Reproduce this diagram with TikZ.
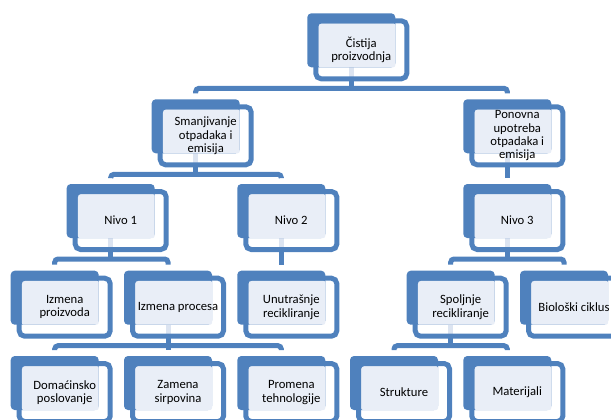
\documentclass[tikz,border=0pt]{standalone}
\usepackage{fontspec}
\setmainfont{Carlito}
\usetikzlibrary{calc}
\pgfdeclarelayer{bg}
\pgfsetlayers{bg,main}
\definecolor{ob}{HTML}{4F81BD}
\definecolor{ol}{HTML}{E9EEF7}
\definecolor{ostub}{HTML}{DCE4F1}
\tikzset{
  backbox/.style={fill=ob, draw=none, rounded corners=3pt, minimum width=66pt, minimum height=40.5pt, inner sep=0pt, outer sep=0pt, anchor=north west},
  textbox/.style={fill=ol, draw=none, rounded corners=1.5pt, minimum width=57.75pt, minimum height=33pt, inner sep=0pt, outer sep=0pt, anchor=north west},
  framebox/.style={draw=ob, line width=3.75pt, rounded corners=4pt, minimum width=68.25pt, minimum height=43.5pt, inner sep=0pt, outer sep=0pt},
  lbl/.style={font=\fontsize{9.5pt}{10pt}\selectfont, align=center, text=black, inner sep=0pt},
  conn/.style={draw=ob, line width=3.75pt, rounded corners=2.5pt},
  stub/.style={draw=ostub, line width=3.75pt},
}
\newcommand\obox[4]{%
  \node[backbox] (#1b) at (#2,#3) {};
  \node[textbox] (#1t) at (#2+11,#3+10) {};
  \node[framebox] (#1f) at (#2+54,#3+36.5) {};
  \node[lbl] (#1) at (#2+54,#3+36.5) {#4};
}
\newcommand\parentline[1]{%
  \draw[stub] (#1b.south) -- (#1b.south |- #1f.south);
  \draw[conn] (#1b.south |- #1f.south) -- ($(#1b.south)+(0,21)$);
}
\newcommand\twokids[3]{%
  \parentline{#1}
  \draw[conn] ($(#2b.north)+(0,-6)$) |- ($(#1b.south)+(0,21)$) -| ($(#3b.north)+(0,-6)$);
}
\newcommand\onekid[2]{%
  \draw[stub] (#1b.south) -- (#1b.south |- #1f.south);
  \draw[conn] (#1b.south |- #1f.south) -- ($(#2b.north)+(0,-6)$);
}
\begin{document}
\begin{tikzpicture}[x=0.75pt,y=-0.75pt]
  \useasboundingbox (0,0) rectangle (611,419);
  \clip (0,0) rectangle (611,419);
  \obox{top}{307.3}{13.3}{Čistija\\proizvodnja}
  \obox{sma}{151.7}{99.3}{Smanjivanje\\otpadaka i\\emisija}
  \obox{pon}{463.3}{99.3}{Ponovna\\upotreba\\otpadaka i\\emisija}
  \obox{nA}{66.7}{184}{Nivo 1}
  \obox{nB}{237.3}{184}{Nivo 2}
  \obox{nC}{463.3}{184}{Nivo 3}
  \obox{izp}{10.7}{270.7}{Izmena\\proizvoda}
  \obox{izr}{124}{270.7}{Izmena procesa}
  \obox{unu}{237.3}{270.7}{Unutrašnje\\recikliranje}
  \obox{spo}{406.7}{270.7}{Spoljnje\\recikliranje}
  \obox{bio}{520}{270.7}{Biološki ciklus}
  \obox{dom}{10.7}{356}{Domaćinsko\\poslovanje}
  \obox{zam}{124}{356}{Zamena\\sirpovina}
  \obox{pro}{237.3}{356}{Promena\\tehnologije}
  \obox{str}{350}{356}{Strukture}
  \obox{mat}{463.3}{356}{Materijali}
  \begin{pgfonlayer}{bg}
    \twokids{top}{sma}{pon}
    \twokids{sma}{nA}{nB}
    \onekid{pon}{nC}
    \twokids{nA}{izp}{izr}
    \onekid{nB}{unu}
    \twokids{nC}{spo}{bio}
    \twokids{izr}{dom}{pro}
    \draw[conn] ($(izrb.south)+(0,21)$) -- ($(zamb.north)+(0,-6)$);
    \twokids{spo}{str}{mat}
  \end{pgfonlayer}
\end{tikzpicture}
\end{document}
